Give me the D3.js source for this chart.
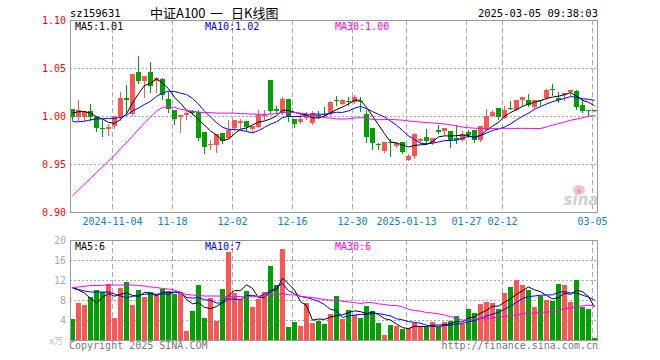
<!DOCTYPE html>
<html><head><meta charset="utf-8">
<script src="https://cdn.jsdelivr.net/npm/d3@7/dist/d3.min.js"></script>
<style>body{margin:0;background:#fff}svg{display:block}</style>
</head><body><svg id="c" width="660" height="360"></svg>
<script>
const dates = ["2024-10-24","2024-10-25","2024-10-28","2024-10-29","2024-10-30","2024-10-31","2024-11-01",
"2024-11-04","2024-11-05","2024-11-06","2024-11-07","2024-11-08","2024-11-11","2024-11-12","2024-11-13","2024-11-14","2024-11-15",
"2024-11-18","2024-11-19","2024-11-20","2024-11-21","2024-11-22","2024-11-25","2024-11-26","2024-11-27","2024-11-28","2024-11-29",
"2024-12-02","2024-12-03","2024-12-04","2024-12-05","2024-12-06","2024-12-09","2024-12-10","2024-12-11","2024-12-12","2024-12-13",
"2024-12-16","2024-12-17","2024-12-18","2024-12-19","2024-12-20","2024-12-23","2024-12-24","2024-12-25","2024-12-26","2024-12-27",
"2024-12-30","2024-12-31","2025-01-02","2025-01-03","2025-01-06","2025-01-07","2025-01-08","2025-01-09","2025-01-10",
"2025-01-13","2025-01-14","2025-01-15","2025-01-16","2025-01-17","2025-01-20","2025-01-21","2025-01-22","2025-01-23","2025-01-24",
"2025-01-27","2025-02-05","2025-02-06","2025-02-07","2025-02-10","2025-02-11",
"2025-02-12","2025-02-13","2025-02-14","2025-02-17","2025-02-18","2025-02-19","2025-02-20","2025-02-21","2025-02-24","2025-02-25","2025-02-26","2025-02-27","2025-02-28",
"2025-03-03","2025-03-04","2025-03-05"];

const openP  = [1.0076,0.9986,0.999,1.005,0.9993,0.988,0.986,0.990,0.999,1.019,1.002,1.046,1.0368,1.046,1.036,1.039,1.018,1.0066,0.9986,1.0007,1.0055,1.004,0.983,0.9694,0.970,0.982,0.977,0.9875,0.9927,0.9944,0.9868,0.9885,1.0007,1.0378,1.0076,1.003,1.018,0.997,0.9934,0.9976,0.9927,1.0007,1.0024,1.0024,1.0163,1.013,1.016,1.0148,1.0155,1.0024,0.9875,0.9705,0.9632,0.973,0.969,0.9726,0.9545,0.958,0.9743,0.978,0.9719,0.985,0.984,0.984,0.977,0.9747,0.983,0.9858,0.9747,0.9858,1.0,1.0087,0.998,1.0087,1.0066,1.0163,1.017,1.0094,1.0167,1.0187,1.028,1.0187,1.0215,1.025,1.0257,1.0118,1.0059,1.0059];
const highP  = [1.0076,1.017,1.005,1.013,1.0,0.996,0.992,1.0,1.025,1.0326,1.044,1.063,1.042,1.0566,1.041,1.040,1.0247,1.0066,1.0007,1.005,1.0066,1.0066,0.983,0.9753,0.9816,0.982,0.9955,0.9955,0.997,0.9944,0.9892,1.0066,1.0066,1.0378,1.010,1.0194,1.018,0.997,1.003,1.004,1.005,1.0055,1.0094,1.016,1.0212,1.018,1.020,1.0215,1.0198,1.0066,0.9875,0.9719,0.9733,0.9757,0.9726,0.9726,0.9608,0.9823,0.9767,0.9868,0.977,0.9906,0.9872,0.984,0.991,0.9847,0.9858,0.9858,0.9892,1.007,1.0066,1.0087,1.0108,1.016,1.0163,1.0194,1.0233,1.0163,1.017,1.028,1.0337,1.025,1.024,1.0274,1.0267,1.0177,1.0059,1.006];
const lowP   = [0.9955,0.996,0.996,0.9955,0.984,0.979,0.980,0.988,0.996,1.003,1.001,1.034,1.0198,1.025,1.0255,1.0177,1.0045,0.992,0.983,0.997,1.0024,0.9747,0.9615,0.9656,0.962,0.972,0.977,0.9858,0.988,0.9858,0.984,0.9885,0.997,1.003,1.003,1.0024,0.9944,0.989,0.9927,0.997,0.992,0.998,0.9997,1.0014,1.0115,1.012,1.011,1.0138,1.005,0.973,0.966,0.9656,0.963,0.958,0.9677,0.9615,0.9538,0.9563,0.973,0.972,0.9708,0.9823,0.9812,0.968,0.972,0.9736,0.978,0.9726,0.974,0.9851,0.9997,0.9969,0.998,1.0073,1.006,1.0108,1.0108,1.0083,1.0118,1.018,1.0215,1.0146,1.017,1.022,1.0073,1.0042,0.9997,1.005];
const closeP = [0.9986,1.0062,1.005,0.9986,0.988,0.9865,0.989,0.9995,1.019,1.017,1.0437,1.0368,1.042,1.031,1.040,1.022,1.0073,0.9972,1.0007,1.003,1.0035,0.977,0.968,0.971,0.9816,0.9736,0.9858,0.9955,0.9944,0.9885,0.9892,1.0007,1.0014,1.0049,1.0049,1.018,0.9997,0.992,0.9965,0.9997,1.003,0.999,1.0007,1.0146,1.0155,1.0167,1.0155,1.0198,1.0148,0.978,0.9719,0.9698,0.9733,0.9726,0.9719,0.962,0.9587,0.9816,0.9757,0.9736,0.977,0.983,0.9872,0.9753,0.9747,0.981,0.980,0.9747,0.9892,1.0,1.0038,0.999,1.0066,1.0083,1.0163,1.0194,1.0118,1.0163,1.0163,1.0274,1.0267,1.0163,1.024,1.0274,1.0094,1.0049,1.0055,1.0055];
const volume = [4.2,7.4,7.0,8.6,10.0,9.6,11.2,4.4,10.4,11.6,7.0,10.0,8.6,9.6,9.2,10.2,9.8,9.2,9.6,1.8,5.8,11.0,4.4,8.4,3.8,10.2,17.6,9.4,8.2,9.8,6.6,8.2,9.6,14.8,11.0,18.2,2.6,3.6,2.8,7.4,3.4,3.8,3.2,5.2,8.8,4.2,6.0,5.0,4.4,6.8,5.8,3.4,1.0,3.0,2.8,2.2,2.4,3.4,2.8,2.6,3.6,2.6,3.6,3.8,4.8,3.2,6.2,5.4,7.2,7.6,7.4,6.2,9.4,10.6,12.0,11.0,10.0,6.6,8.8,8.0,7.8,11.2,11.0,7.6,12.0,6.6,6.2,0.4];

// moving-average values for the first days (history before the window)
const priceMA5Head  = [1.003,1.0045,1.0045,1.003];
const priceMA10Head = [0.994,0.994,0.9945,0.996,0.997,0.997,0.9975,0.9975,0.9985];
const priceMA30Head = [0.917,0.923,0.929,0.935,0.941,0.947,0.953,0.959,0.966,0.972,0.979,0.986,0.993,0.999,1.005,1.009,1.0095,1.009,1.007,1.006,1.005,1.004,1.0035,1.0035,1.003,1.003,1.003,1.003,1.0025];
const volMA5Head  = [10.4,10.0,9.4,8.3];
const volMA10Head = [10.5,10.1,9.8,9.6,9.6,9.6,9.6,9.2,8.8];
const volMA30Head = [10.5,10.6,10.75,10.9,10.9,10.95,11.0,11.0,11.0,11.0,11.0,10.9,10.8,10.6,10.5,10.3,10.2,10.0,9.5,9.1,9.0,8.9,8.8,8.8,8.8,8.75,8.7,8.7,8.7];

const priceTicks = [1.10,1.05,1.00,0.95,0.90];
const volTicks = [20,16,12,8,4];
const dateTickIdx = [7,17,27,37,47,56,66,72,87];
const dateTickLabels = ["2024-11-04","11-18","12-02","12-16","12-30","2025-01-13","01-27","02-12","03-05"];
const priceLegend = ["MA5:1.01","MA10:1.02","MA30:1.00"];
const volLegend = ["MA5:6","MA10:7","MA30:6"];
const titleParts = [["中证A100",150],["一",210],["日K线图",231]];

const RED="#ff5555", GREEN="#00a000";
const MONO="'DejaVu Sans Mono','Liberation Mono',monospace";
const CJK="'Noto Sans CJK SC',sans-serif";

function ma(vals,n,head){return vals.map((v,i)=> i<head.length?head[i]:d3.mean(vals.slice(i-n+1,i+1)));}

const svg=d3.select("#c");
svg.append("rect").attr("width",660).attr("height",360).attr("fill","#fff");

const L=70,R=597,PT=20,PB=212,VT=240,VB=340;
const x=d3.scaleLinear().domain([0,dates.length]).range([L,L+6*dates.length]);
const y=d3.scaleLinear().domain([0.90,1.10]).range([PB,PT]);
const yv=d3.scaleLinear().domain([0,20]).range([VB,VT]);
const bw=5;

// title
svg.append("text").attr("x",70).attr("y",17).attr("font-family",MONO).attr("font-size",10.5).text("sz159631");
titleParts.forEach(([t,px])=>svg.append("text").attr("x",px).attr("y",18).attr("font-family",CJK).attr("font-size",13).text(t));
svg.append("text").attr("x",598).attr("y",17).attr("text-anchor","end").attr("font-family",MONO).attr("font-size",10.5).text("2025-03-05 09:38:03");

function panel(top,bottom,yScale,hTicks){
  const g=svg.append("g");
  g.selectAll(".h").data(hTicks).join("line")
   .attr("x1",L).attr("x2",R).attr("y1",d=>Math.round(yScale(d))+0.5).attr("y2",d=>Math.round(yScale(d))+0.5)
   .attr("stroke","#aaa").attr("stroke-dasharray","2,2");
  g.selectAll(".v").data(dateTickIdx).join("line")
   .attr("x1",d=>x(d)+0.5).attr("x2",d=>x(d)+0.5).attr("y1",top).attr("y2",bottom)
   .attr("stroke","#aaa").attr("stroke-dasharray","5,3");
  return g;
}
panel(PT,PB,y,[1.05,1.00,0.95]);
panel(VT,VB,yv,[16,12,8,4]);

// watermark
svg.append("ellipse").attr("cx",579).attr("cy",190).attr("rx",6).attr("ry",5).attr("fill","#f6c4c4");
svg.append("circle").attr("cx",579).attr("cy",191).attr("r",2).attr("fill","#e0a0a0");
svg.append("text").attr("x",581).attr("y",205).attr("text-anchor","middle").attr("font-family","'DejaVu Sans',sans-serif")
  .attr("font-style","italic").attr("font-weight","bold").attr("font-size",15).attr("fill","#cfcfcf").text("sina");

const idx=d3.range(dates.length);
// candles
const cg=svg.append("g");
cg.selectAll("line").data(idx).join("line")
  .attr("x1",i=>x(i)+2.5).attr("x2",i=>x(i)+2.5)
  .attr("y1",i=>Math.round(y(highP[i]))).attr("y2",i=>Math.round(y(lowP[i]))+1)
  .attr("stroke",i=>closeP[i]>=openP[i]?RED:GREEN);
cg.selectAll("rect").data(idx).join("rect")
  .attr("x",i=>x(i)).attr("width",bw)
  .attr("y",i=>Math.round(y(Math.max(openP[i],closeP[i]))))
  .attr("height",i=>Math.max(1,Math.round(y(Math.min(openP[i],closeP[i])))-Math.round(y(Math.max(openP[i],closeP[i])))))
  .attr("fill",i=>closeP[i]>=openP[i]?RED:GREEN);

// volume bars
svg.append("g").selectAll("rect").data(idx).join("rect")
  .attr("x",i=>x(i)).attr("width",bw)
  .attr("y",i=>Math.round(yv(volume[i]))).attr("height",i=>VB-Math.round(yv(volume[i])))
  .attr("fill",i=>closeP[i]>=openP[i]?RED:GREEN);

// MA lines
function maLines(vals,heads,yScale,clipTop,clipBottom){
  const cols=["#000","#0000ff","#ff00ff"],ns=[5,10,30];
  const id="clip"+clipTop;
  svg.append("clipPath").attr("id",id).append("rect").attr("x",L).attr("y",clipTop).attr("width",R-L).attr("height",clipBottom-clipTop);
  const g=svg.append("g").attr("clip-path",`url(#${id})`);
  ns.forEach((n,k)=>{
    const m=ma(vals,n,heads[k]);
    g.append("path").attr("d",d3.line().x((d,i)=>x(i)+2.5).y(d=>yScale(d))(m))
     .attr("fill","none").attr("stroke",cols[k]).attr("stroke-width",1);
  });
}
maLines(closeP,[priceMA5Head,priceMA10Head,priceMA30Head],y,PT,PB);
maLines(volume,[volMA5Head,volMA10Head,volMA30Head],yv,VT,VB);

// borders
svg.append("rect").attr("x",L+0.5).attr("y",PT+0.5).attr("width",R-L).attr("height",PB-PT).attr("fill","none").attr("stroke","#999");
svg.append("rect").attr("x",L+0.5).attr("y",VT+0.5).attr("width",R-L).attr("height",VB-VT).attr("fill","none").attr("stroke","#999");

// legends
const legX=[75,205,335],legC=["#000","#0000ff","#ff00ff"];
priceLegend.forEach((t,k)=>svg.append("text").attr("x",legX[k]).attr("y",30).attr("font-family",MONO).attr("font-size",10).attr("fill",legC[k]).text(t));
volLegend.forEach((t,k)=>svg.append("text").attr("x",legX[k]).attr("y",250).attr("font-family",MONO).attr("font-size",10).attr("fill",legC[k]).text(t));

// axes
const ay=svg.append("g").attr("transform",`translate(${L},0)`)
  .call(d3.axisLeft(y).tickValues(priceTicks).tickSize(0).tickPadding(4).tickFormat(d3.format(".2f")));
ay.select(".domain").remove();
ay.selectAll("text").attr("font-family",MONO).attr("font-size",10).attr("fill","#ff0000");
const av=svg.append("g").attr("transform",`translate(${L},0)`)
  .call(d3.axisLeft(yv).tickValues(volTicks).tickSize(0).tickPadding(4).tickFormat(d3.format("d")));
av.select(".domain").remove();
av.selectAll("text").attr("font-family",MONO).attr("font-size",10).attr("fill","#aaa");
const ax=svg.append("g").attr("transform",`translate(0,${PB})`)
  .call(d3.axisBottom(x).tickValues(dateTickIdx).tickSize(0).tickPadding(6).tickFormat((d,k)=>dateTickLabels[k]));
ax.select(".domain").remove();
ax.selectAll(".tick").attr("transform",d=>`translate(${x(d)+0.5},0)`);
ax.selectAll("text").attr("font-family",MONO).attr("font-size",10).attr("fill","#0a80d0");

svg.append("text").attr("x",63).attr("y",344).attr("text-anchor","end").attr("font-family",CJK).attr("font-size",9).attr("fill","#bbb").text("x万");
svg.append("text").attr("x",69).attr("y",349).attr("font-family",MONO).attr("font-size",10).attr("fill","#777").text("Copyright 2025 SINA.COM");
svg.append("text").attr("x",598).attr("y",349).attr("text-anchor","end").attr("font-family",MONO).attr("font-size",10).attr("fill","#777").text("http://finance.sina.com.cn");
</script></body></html>
